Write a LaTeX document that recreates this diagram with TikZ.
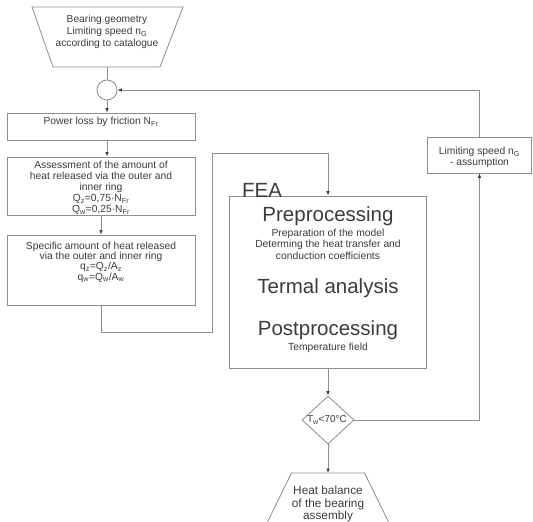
\documentclass[tikz,border=0pt]{standalone}
\usepackage{fontspec}
\setmainfont{Liberation Sans}
\usetikzlibrary{arrows.meta,shapes.geometric}
\definecolor{ln}{HTML}{8E8E8E}
\definecolor{tx}{HTML}{3C3C3C}
\begin{document}
\begin{tikzpicture}[x=1pt,y=-1pt,
  box/.style={draw=ln, line width=0.8pt, inner sep=0pt},
  conn/.style={draw=ln, line width=0.8pt},
  arr/.style={conn, -{Latex[length=4.5pt,width=3.6pt,color=tx]}},
  txt/.style={text=tx, font=\fontsize{10.3}{11}\selectfont, align=center, inner sep=0pt},
  big/.style={text=tx, font=\fontsize{20.5}{24}\selectfont, inner sep=0pt}]
\useasboundingbox (0,0) rectangle (533,522);
\fill[white] (0,0) rectangle (533,522);

% top trapezoid
\draw[ln, line width=0.8pt] (32,7) -- (183,7) -- (160,67) -- (53,67) -- cycle;
\node[inner sep=0pt, minimum width=107pt, minimum height=60pt] (geo) at (107,37) {};
\node[txt, font=\fontsize{10.2}{12}\selectfont] (geot) at (107,32) {Bearing geometry\\Limiting speed n\textsubscript{G}\\according to catalogue};

% circle
\node[box, circle, minimum size=20pt] (cir) at (107,90) {};

% left boxes
\node[box, minimum width=188pt, minimum height=27pt] (pl) at (101,126.5) {};
\node[txt] (plt) at (101,122) {Power loss by friction N\textsubscript{Fr}};

\node[box, minimum width=188pt, minimum height=58pt] (as) at (101,186) {};
\node[txt] (ast) at (101,188) {Assessment of the amount of\\heat released via the outer and\\inner ring\\Q\textsubscript{z}=0,75·N\textsubscript{Fr}\\Q\textsubscript{w}=0,25·N\textsubscript{Fr}};

\node[box, minimum width=188pt, minimum height=70pt] (sp) at (101,270) {};
\node[txt, font=\fontsize{10.3}{10.4}\selectfont] (spt) at (101,262) {Specific amount of heat released\\via the outer and inner ring\\q\textsubscript{z}=Q\textsubscript{z}/A\textsubscript{z}\\q\textsubscript{w}=Q\textsubscript{w}/A\textsubscript{w}};

% FEA box
\node[box, minimum width=197pt, minimum height=172pt] (fea) at (328,282) {};
\node[big, anchor=base west] (feat) at (242,197) {FEA};
\node[big] (pre) at (328,216) {Preprocessing};
\node[txt, font=\fontsize{10.3}{11.5}\selectfont] (pret) at (328,244) {Preparation of the model\\Determing the heat transfer and\\conduction coefficients};
\node[big] (ter) at (328,288) {Termal analysis};
\node[big] (post) at (328,330) {Postprocessing};
\node[txt] (postt) at (328,348) {Temperature field};

% limiting speed box
\node[box, minimum width=104pt, minimum height=36pt] (lim) at (479.5,155) {};
\node[txt] (limt) at (479.5,157.5) {Limiting speed n\textsubscript{G}\\- assumption};

% diamond
\node[box, diamond, minimum width=52pt, minimum height=48pt] (dia) at (328,420) {};
\node[txt, font=\fontsize{10}{11}\selectfont] (diat) at (327,420) {T\textsubscript{w}<70°C};

% bottom trapezoid
\draw[ln, line width=0.8pt] (267,523) -- (291.5,473) -- (364.5,473) -- (389,523);
\coordinate (bt) at (328,473);
\node[txt, font=\fontsize{11.8}{12.6}\selectfont] (btt) at (328,504) {Heat balance\\of the bearing\\assembly};

% connectors
\draw[conn] (geo.south) -- (cir.north);
\draw[arr] (cir.south) -- (cir.south |- pl.north);
\draw[arr] (pl.south -| cir.south) -- (as.north -| cir.south);
\draw[arr] (as.south) -- (sp.north);
\draw[arr] (sp.south) -- ++(0,27) -| (212,153) -| (fea.north);
\draw[arr] (fea.south) -- (dia.north);
\draw[arr] (dia.south) -- (bt);
\draw[arr] (dia.east) -| (lim.south);
\draw[arr] (lim.north) |- (cir.east);
\end{tikzpicture}
\end{document}
